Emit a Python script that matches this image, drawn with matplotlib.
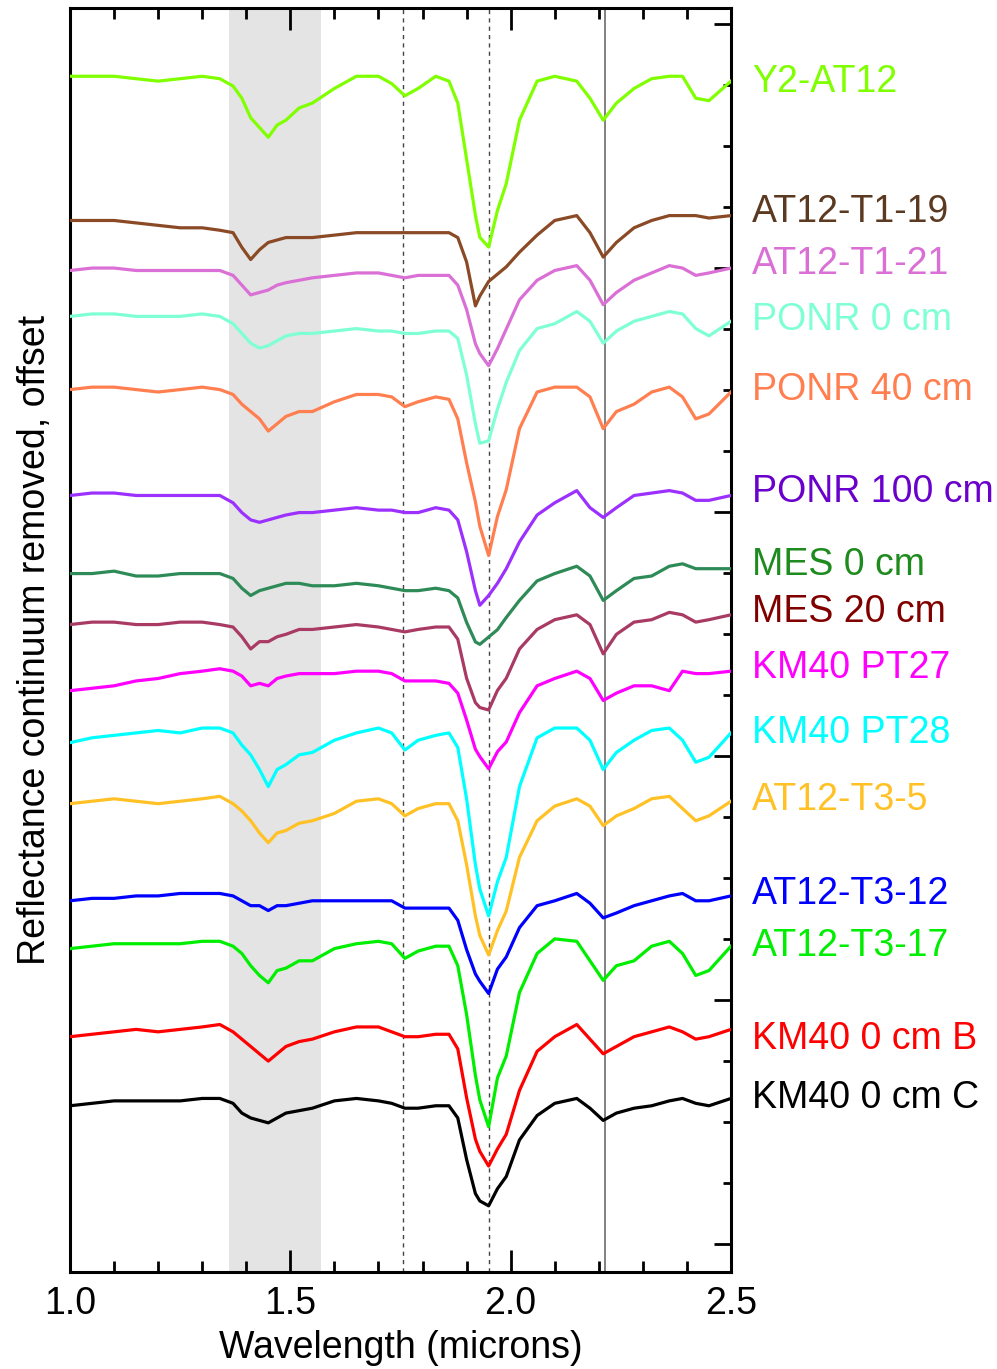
import matplotlib
matplotlib.use("Agg")
import matplotlib.pyplot as plt
from matplotlib.ticker import MultipleLocator

plt.rcParams['font.family'] = ['Liberation Sans', 'DejaVu Sans']

# wavelength grid (microns) shared by all spectra
wavelength = [1.00, 1.05, 1.10, 1.15, 1.20, 1.25, 1.30, 1.34, 1.37, 1.39,
              1.41, 1.43, 1.45, 1.47, 1.49, 1.52, 1.55, 1.60, 1.65, 1.70,
              1.73, 1.76, 1.79, 1.83, 1.86, 1.88, 1.90, 1.92, 1.93, 1.95,
              1.97, 1.99, 2.02, 2.06, 2.10, 2.15, 2.18, 2.21, 2.24, 2.28,
              2.32, 2.36, 2.39, 2.42, 2.45, 2.50]

# sample names, top to bottom
names = ["Y2-AT12", "AT12-T1-19", "AT12-T1-21", "PONR 0 cm", "PONR 40 cm",
         "PONR 100 cm", "MES 0 cm", "MES 20 cm", "KM40 PT27", "KM40 PT28",
         "AT12-T3-5", "AT12-T3-12", "AT12-T3-17", "KM40 0 cm B", "KM40 0 cm C"]

# vertical offset of each spectrum (percent units)
offsets = [478.5, 419.4, 398.9, 380.1, 350.1, 306.7, 274.7, 253.8,
           226.7, 205.4, 180.4, 140.6, 121.0, 84.9, 56.6]

# band depth below the 1.0 micron level (percent)
y2_at12 = [0, 0, 0, 1, 2, 1, 0, 1, 4, 9, 17, 21, 25, 20, 18, 13, 11, 5, 0, 0,
           3, 8, 5, 0, 2, 11, 34, 57, 66, 70, 55, 44, 18, 2, 0, 2, 9, 18, 11, 5,
           1, 0, 0, 9, 10, 2]
at12_t1_19 = [0, 0, 0, 1, 2, 3, 3, 4, 5, 11, 16, 12, 9, 8, 7, 7, 7, 6, 5, 5,
              5, 5, 5, 5, 5, 7, 17, 35, 31, 25, 22, 19, 13, 6, 0, -2, 5, 15, 9, 3,
              0, -2, -2, -2, -1, -2]
at12_t1_21 = [0, -1, -1, 0, 0, 0, 0, 0, 2, 6, 10, 9, 8, 6, 5, 4, 3, 2, 1, 1,
              2, 3, 2, 2, 2, 6, 16, 30, 34, 39, 32, 24, 12, 4, 0, -2, 4, 14, 9, 4,
              1, -2, -1, 2, 1, -1]
ponr_0 = [0, -1, -1, 0, 0, 0, -1, 0, 3, 7, 11, 13, 12, 10, 8, 7, 7, 6, 5, 6,
          6, 7, 7, 6, 6, 9, 24, 44, 52, 51, 38, 27, 14, 5, 3, -2, 2, 11, 6, 2,
          0, -2, -1, 5, 8, 2]
ponr_40 = [0, -1, -1, 0, 1, 0, -1, 0, 2, 6, 9, 12, 17, 14, 11, 9, 9, 5, 2, 2,
           3, 7, 5, 3, 4, 12, 30, 46, 56, 68, 52, 41, 16, 1, -1, -1, 3, 16, 9, 6,
           1, -1, 3, 12, 10, 1]
ponr_100 = [0, -1, -1, 0, 0, 0, 0, 0, 3, 7, 10, 11, 10, 9, 8, 7, 7, 6, 5, 6,
            6, 7, 7, 5, 6, 10, 23, 39, 45, 41, 36, 30, 19, 8, 3, -2, 5, 9, 5, 0,
            -1, -2, -1, 2, 2, 0]
mes_0 = [0, 0, -1, 1, 1, 0, 0, 0, 2, 6, 9, 7, 6, 5, 4, 4, 5, 5, 4, 5,
         6, 7, 7, 6, 7, 10, 20, 28, 29, 26, 23, 18, 11, 3, 0, -3, 1, 11, 7, 2,
         1, -3, -4, -2, -2, -2]
mes_20 = [0, -1, -1, 0, 0, -1, -1, 0, 1, 5, 10, 7, 7, 5, 4, 2, 2, 1, 0, 1,
          2, 3, 2, 1, 1, 6, 22, 32, 34, 35, 27, 22, 10, 2, -2, -4, 0, 12, 4, -1,
          -2, -5, -4, -1, -2, -4]
km40_pt27 = [0, -1, -2, -4, -5, -7, -8, -9, -8, -6, -2, -3, -2, -5, -6, -7, -7, -7, -8, -8,
             -7, -4, -4, -4, -3, 1, 12, 24, 27, 32, 25, 21, 9, -2, -5, -8, -5, 4, 1, -2,
             -2, 0, -8, -7, -7, -8]
km40_pt28 = [0, -2, -3, -4, -5, -4, -6, -6, -4, 1, 5, 11, 18, 11, 9, 5, 4, -1, -4, -6,
             -4, 3, -1, -3, -4, 2, 23, 50, 60, 71, 57, 47, 18, -2, -6, -6, -1, 11, 4, -1,
             -5, -6, -1, 8, 6, -4]
at12_t3_5 = [0, -1, -2, -1, 0, -1, -2, -3, 0, 3, 7, 12, 16, 12, 11, 8, 7, 4, -1, -2,
             0, 5, 2, 0, 0, 7, 25, 46, 54, 62, 52, 44, 22, 7, 1, -2, 1, 9, 5, 2,
             -2, -3, 2, 7, 5, -1]
at12_t3_12 = [0, -1, -1, -2, -2, -3, -3, -3, -2, 0, 2, 2, 4, 2, 2, 1, 0, 0, 0, 0,
              0, 3, 3, 3, 3, 8, 20, 30, 33, 38, 28, 23, 11, 2, 0, -3, 1, 7, 5, 2,
              0, -2, -3, 0, 0, -2]
at12_t3_17 = [0, -1, -2, -2, -2, -2, -3, -3, -1, 2, 7, 11, 14, 9, 8, 5, 5, 0, -2, -3,
              -2, 4, 1, -1, -1, 7, 27, 52, 62, 73, 53, 44, 18, 2, -4, -3, 5, 13, 7, 5,
              -1, -3, 2, 11, 9, -1]
km40_0_b = [0, -1, -2, -3, -2, -3, -4, -5, -2, 1, 4, 7, 10, 7, 4, 2, 1, -2, -4, -4,
            -2, 0, 0, -1, -1, 5, 25, 42, 47, 53, 46, 40, 22, 6, 0, -5, 1, 7, 4, 0,
            -2, -4, -2, 1, 0, -3]
km40_0_c = [0, -1, -2, -2, -2, -2, -3, -3, -1, 3, 5, 6, 7, 5, 3, 2, 1, -2, -3, -2,
            -1, 1, 1, 0, 0, 5, 22, 36, 39, 41, 34, 29, 14, 4, -1, -3, 1, 6, 3, 1,
            0, -2, -3, -1, 0, -3]

spectra = [y2_at12, at12_t1_19, at12_t1_21, ponr_0, ponr_40, ponr_100, mes_0,
           mes_20, km40_pt27, km40_pt28, at12_t3_5, at12_t3_12, at12_t3_17,
           km40_0_b, km40_0_c]

line_colors = ['#80ff00', '#8b4a26', '#da70d6', '#7fffd4', '#ff7f50',
               '#9b30ff', '#2e8b57', '#a83a64', '#ff00ff', '#00ffff',
               '#ffc125', '#0000ff', '#00ee00', '#ff0000', '#000000']
label_colors = ['#80ff00', '#5c3a21', '#da70d6', '#7fffd4', '#ff7f50',
                '#6a00cc', '#1e8b1e', '#800000', '#ff00ff', '#00ffff',
                '#ffc125', '#0000ff', '#00ee00', '#ff0000', '#000000']
label_y = [476.0, 422.7, 401.4, 378.8, 350.1, 308.3, 278.4, 259.1,
           236.2, 209.5, 182.0, 143.5, 122.2, 84.1, 59.9]

fig = plt.figure(figsize=(9.97, 13.69), dpi=100)
ax = fig.add_axes([0.0702, 0.0709, 0.663, 0.9233])

ax.axvspan(1.36, 1.57, color='#e4e4e4', lw=0, zorder=0)
ax.axvline(1.755, color='#444444', lw=1.0, ls=(0, (3, 3)), zorder=1)
ax.axvline(1.95, color='#444444', lw=1.0, ls=(0, (3, 3)), zorder=1)
ax.axvline(2.214, color='#777777', lw=1.3, zorder=1)

for vals, off, col in zip(spectra, offsets, line_colors):
    ax.plot(wavelength, [off - v for v in vals], color=col, lw=2.3, zorder=3,
            solid_joinstyle='round')

for name, ly, col in zip(names, label_y, label_colors):
    ax.text(1.032, ly, name, color=col, fontsize=27, va='center', ha='left',
            transform=ax.get_yaxis_transform())

ax.set_xlim(1.0, 2.5)
ax.set_ylim(-11.5, 506.5)
ax.xaxis.set_major_locator(MultipleLocator(0.5))
ax.xaxis.set_minor_locator(MultipleLocator(0.1))
ax.yaxis.set_major_locator(MultipleLocator(100))
ax.yaxis.set_minor_locator(MultipleLocator(25))
ax.set_xticks([1.0, 1.5, 2.0, 2.5], ['1.0', '1.5', '2.0', '2.5'])

ax.tick_params(axis='x', which='both', direction='in', top=True, bottom=True,
               labelsize=27, pad=10, width=2)
ax.tick_params(axis='x', which='major', length=16)
ax.tick_params(axis='x', which='minor', length=8)
ax.tick_params(axis='y', which='both', direction='in', left=False, right=True,
               labelleft=False, labelright=False, width=2)
ax.tick_params(axis='y', which='major', length=12)
ax.tick_params(axis='y', which='minor', length=6)

for sp in ax.spines.values():
    sp.set_linewidth(2.2)

ax.set_xlabel('Wavelength (microns)', fontsize=27, labelpad=6)
ax.set_ylabel('Reflectance continuum removed, offset', fontsize=27, labelpad=12)

fig.savefig('out.png', dpi=100)
